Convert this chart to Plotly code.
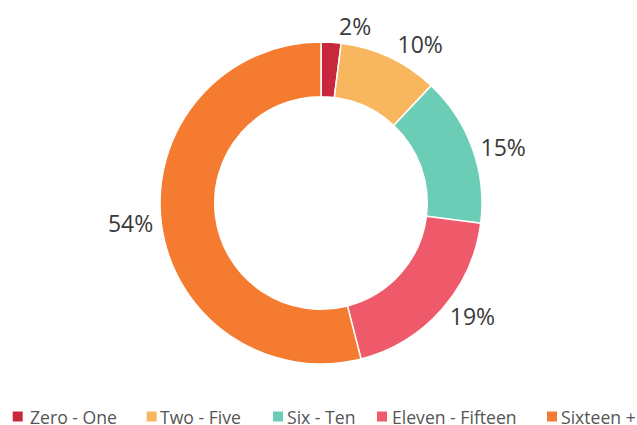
import plotly.graph_objects as go

categories = ["Zero - One", "Two - Five", "Six - Ten", "Eleven - Fifteen", "Sixteen +"]
values = [2, 10, 15, 19, 54]
colors = ["#C8283E", "#F8B65E", "#6CCDB7", "#EE5A69", "#F47B30"]

W, H = 637, 425
ML, MR, MT, MB = 5, 0, 42, 61
PW, PH = W - ML - MR, H - MT - MB

common = dict(
    labels=categories,
    values=values,
    hole=0.66,
    sort=False,
    direction="clockwise",
    rotation=0,
    automargin=False,
    textinfo="percent",
    texttemplate="%{percent:.0%}",
    textfont=dict(family="Open Sans", size=23, color="#3a3a3a"),
    showlegend=False,
    hoverinfo="label+percent",
)

# main ring with labels for all but the first slice
fig = go.Figure(go.Pie(
    marker=dict(colors=colors, line=dict(color="white", width=1.5)),
    textposition=["none", "outside", "outside", "outside", "outside"],
    **common,
))
# overlay (transparent) carrying the first slice's label so it is not pushed away
fig.add_trace(go.Pie(
    marker=dict(colors=["rgba(0,0,0,0)"] * len(values), line=dict(width=0)),
    textposition=["outside", "none", "none", "none", "none"],
    hoverinfo="skip",
    **{k: v for k, v in common.items() if k != "hoverinfo"},
))

# custom one-row legend (marker square + label)
legend_marker_px = [12.7, 146.7, 273, 377, 547]
legend_text_px = [28, 158, 285, 390, 559]
legend_y_px = 416.5
sq = 10

def px_x(p):
    return (p - ML) / PW

def px_y(p):
    return (H - MB - p) / PH

for cat, col, mx, tx in zip(categories, colors, legend_marker_px, legend_text_px):
    fig.add_shape(type="rect", xref="paper", yref="paper",
                  x0=px_x(mx), x1=px_x(mx + sq),
                  y0=px_y(legend_y_px + sq / 2), y1=px_y(legend_y_px - sq / 2),
                  fillcolor=col, line=dict(width=0))
    fig.add_annotation(text=cat, xref="paper", yref="paper",
                       x=px_x(tx), y=px_y(legend_y_px),
                       xanchor="left", yanchor="middle", showarrow=False,
                       font=dict(family="Open Sans", size=17.6, color="#555555"))

fig.update_layout(
    width=W, height=H,
    margin=dict(l=ML, r=MR, t=MT, b=MB, autoexpand=False),
    paper_bgcolor="white",
    plot_bgcolor="white",
)

fig.write_html("out.html", config={"displayModeBar": False},
               post_script="document.body.style.margin='0px';")
